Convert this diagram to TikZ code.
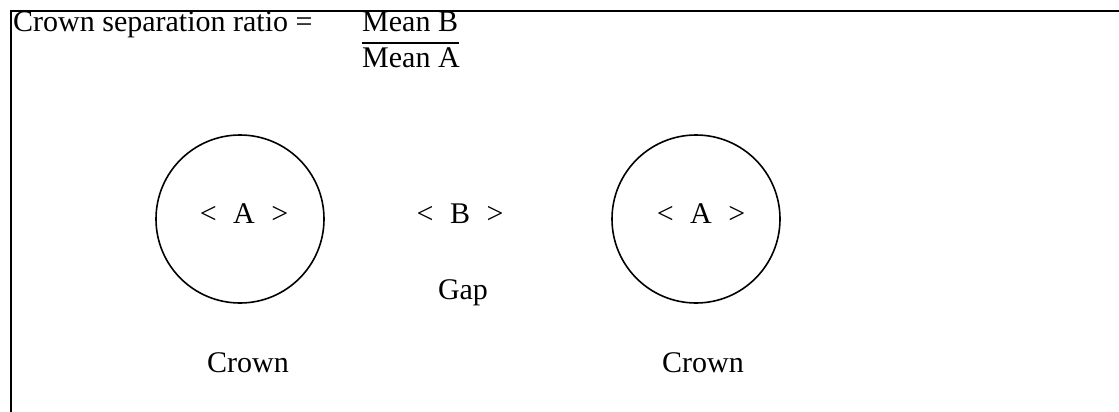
\documentclass[tikz,border=0pt]{standalone}
\usepackage{fontspec}
\setmainfont{Liberation Serif}
\usetikzlibrary{calc}
\begin{document}
\begin{tikzpicture}[x=1pt,y=-1pt,
  lbl/.style={inner sep=0pt,anchor=base,font=\fontsize{30}{36}\selectfont},
  crown/.style={draw,circle,line width=1.6pt,minimum size=168pt,inner sep=0pt},
  frame/.style={line width=1.6pt}]
\useasboundingbox (0,0) rectangle (1119,412);
\draw[frame] (11,412) -- (11,11) -- (1119,11);
\node[lbl,anchor=base west] (ratio) at (13,32) {Crown separation ratio =};
\node[lbl,anchor=base west] (mb) at (362,32) {Mean B};
\node[lbl,anchor=base west] (ma) at (362,67) {Mean A};
\draw[line width=1.6pt] ($(mb.base west)+(0,11)$) -- ($(mb.base east)+(1,11)$);
\node[crown] (c1) at (240,219) {};
\node[crown] (c2) at (696,219) {};
\node[lbl] (a1) at (244,223) {<\hspace{0.55em}A\hspace{0.55em}>};
\node[lbl] (a2) at (701,223) {<\hspace{0.55em}A\hspace{0.55em}>};
\node[lbl] (b) at (460,223) {<\hspace{0.55em}B\hspace{0.55em}>};
\node[lbl] (gap) at (463,299) {Gap};
\node[lbl] (cr1) at (248,372) {Crown};
\node[lbl] (cr2) at (703,372) {Crown};
\end{tikzpicture}
\end{document}
